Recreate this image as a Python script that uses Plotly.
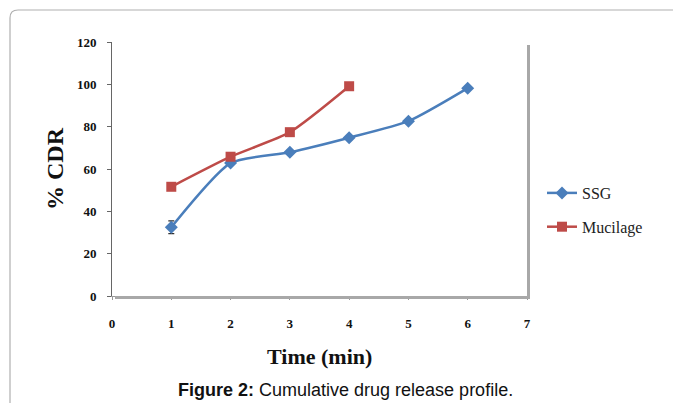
import plotly.graph_objects as go

time_min = [1, 2, 3, 4, 5, 6]
ssg = [32.5, 62.8, 67.9, 74.8, 82.6, 98.2]
ssg_err = [3.0, 1.0, 1.0, 1.0, 1.0, 1.0]
time_muc = [1, 2, 3, 4]
mucilage = [51.6, 65.8, 77.4, 99.1]
x_ticks = [0, 1, 2, 3, 4, 5, 6, 7]
y_ticks = [0, 20, 40, 60, 80, 100, 120]

OFF = 8  # browser body margin
W, H = 681 - OFF, 403 - OFF
L, R, T, B = 112 - OFF, 527 - OFF, 42 - OFF, 296 - OFF
pw, ph = R - L, B - T

def px(x):
    return (x - OFF - L) / pw

def py(y):
    return (B - (y - OFF)) / ph

fig = go.Figure()
fig.add_trace(go.Scatter(
    x=time_min, y=ssg, name="SSG", mode="lines+markers", legendgroup="a",
    line=dict(color="#4A7EBB", width=2.5, shape="spline", smoothing=0.6),
    marker=dict(symbol="diamond", size=10, color="#4A7EBB"),
    error_y=dict(type="data", array=ssg_err, color="#333333", thickness=1.2, width=3),
))
fig.add_trace(go.Scatter(
    x=time_muc, y=mucilage, name="Mucilage", mode="lines+markers", legendgroup="b",
    line=dict(color="#BE4B48", width=2.5, shape="spline", smoothing=0.6),
    marker=dict(symbol="square", size=10, color="#BE4B48"),
))

serif = "Liberation Serif, Times New Roman, serif"

# outer frame with rounded top-left corner
r = 8
path = (f"M {px(10)},{py(410)} L {px(10)},{py(10 + r)} "
        f"Q {px(10)},{py(10)} {px(10 + r)},{py(10)} L {px(690)},{py(10)}")
fig.add_shape(type="path", path=path, xref="paper", yref="paper",
              line=dict(color="#b0b0b0", width=1.2), layer="below")
# plot area shadow (right and bottom)
fig.add_shape(type="line", xref="paper", yref="paper", x0=px(528.5), x1=px(528.5),
              y0=py(45), y1=py(298), line=dict(color="#a8a8a8", width=3))
fig.add_shape(type="line", xref="paper", yref="paper", x0=px(115), x1=px(530),
              y0=py(297.5), y1=py(297.5), line=dict(color="#a8a8a8", width=3))

fig.add_annotation(text="<b>% CDR</b>", xref="paper", yref="paper", x=px(55), y=py(169),
                   xanchor="center", yanchor="middle",
                   textangle=-90, showarrow=False, font=dict(family=serif, size=24, color="#111"))
fig.add_annotation(text="<b>Time (min)</b>", xref="paper", yref="paper", x=px(319), y=py(356),
                   xanchor="center", yanchor="middle",
                   showarrow=False, font=dict(family=serif, size=22, color="#111"))
fig.add_annotation(text="<b>Figure 2:</b> Cumulative drug release profile.", xref="paper", yref="paper",
                   x=px(345), y=py(390), xanchor="center", yanchor="middle", showarrow=False,
                   font=dict(family="Liberation Sans, Arial, sans-serif", size=18, color="#111"))

fig.update_layout(
    width=W, height=H,
    margin=dict(l=L, r=W - R, t=T, b=H - B, pad=0),
    paper_bgcolor="white", plot_bgcolor="white",
    showlegend=True,
    legend=dict(x=px(542), y=py(176), xanchor="left", yanchor="top",
                font=dict(family=serif, size=16, color="#222"),
                tracegroupgap=10, itemwidth=30, bgcolor="rgba(0,0,0,0)"),
    xaxis=dict(range=[0, 7], tickvals=x_ticks, ticktext=[str(v) for v in x_ticks],
               showgrid=False, zeroline=False, showline=True, linecolor="#999999", linewidth=1,
               ticks="outside", ticklen=3, tickcolor="#999999", ticklabelstandoff=12,
               tickfont=dict(family=serif, size=13, color="#111", weight="bold")),
    yaxis=dict(range=[0, 120], tickvals=y_ticks, ticktext=[str(v) for v in y_ticks],
               showgrid=False, zeroline=False, showline=True, linecolor="#666666", linewidth=1,
               ticks="outside", ticklen=4, tickcolor="#666666", ticklabelstandoff=8,
               tickfont=dict(family=serif, size=13, color="#111", weight="bold")),
)

fig.write_html("out.html")
